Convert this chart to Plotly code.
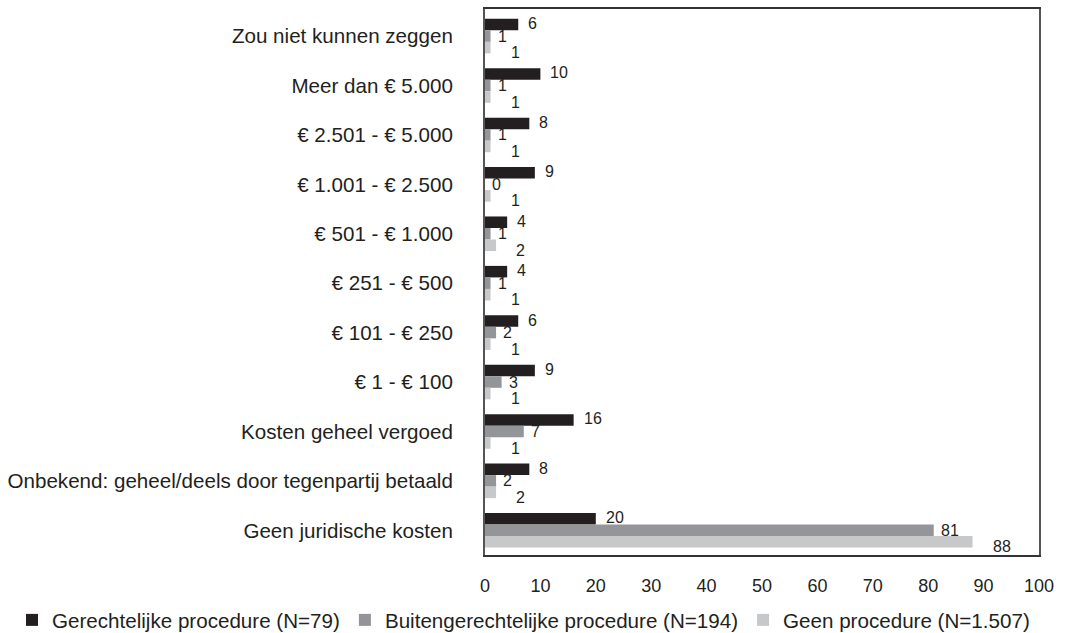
import plotly.graph_objects as go

categories = [
    "Zou niet kunnen zeggen",
    "Meer dan € 5.000",
    "€ 2.501 - € 5.000",
    "€ 1.001 - € 2.500",
    "€ 501 - € 1.000",
    "€ 251 - € 500",
    "€ 101 - € 250",
    "€ 1 - € 100",
    "Kosten geheel vergoed",
    "Onbekend: geheel/deels door tegenpartij betaald",
    "Geen juridische kosten",
]

gerechtelijk = [6, 10, 8, 9, 4, 4, 6, 9, 16, 8, 20]
buitengerechtelijk = [1, 1, 1, 0, 1, 1, 2, 3, 7, 2, 81]
geen_procedure = [1, 1, 1, 1, 2, 1, 1, 1, 1, 2, 88]

series_names = [
    "Gerechtelijke procedure (N=79)",
    "Buitengerechtelijke procedure (N=194)",
    "Geen procedure (N=1.507)",
]
series_values = [gerechtelijk, buitengerechtelijk, geen_procedure]
series_colors = ["#231f20", "#939598", "#c7c8ca"]

x_ticks = list(range(0, 101, 10))

FONT = "Liberation Sans, Arial, sans-serif"
TEXT_COLOR = "#231f20"
W, H = 1065, 633
MARGIN = dict(l=485, r=26, t=9, b=78)
BARGAP = 0.3
plot_w = W - MARGIN["l"] - MARGIN["r"]
plot_h = H - MARGIN["t"] - MARGIN["b"]

fig = go.Figure()
for name, vals, color in zip(series_names, series_values, series_colors):
    fig.add_trace(go.Bar(
        y=categories, x=vals, name=name, orientation="h",
        marker=dict(color=color, line=dict(width=0)),
        hoverinfo="x+name",
    ))

# value labels just past each bar end; per-series pixel nudges (x, y)
label_nudge = [(8, 1), (5, 0), (18, -5)]
n = len(series_values)
band_px = plot_h / len(categories)
bar_px = band_px * (1 - BARGAP) / n
annotations = []
for k, vals in enumerate(series_values):
    dx, dy = label_nudge[k]
    slot = (k - (n - 1) / 2) * bar_px  # vertical offset of this series within the group
    for cat, v in zip(categories, vals):
        annotations.append(dict(
            x=v, y=cat, text=str(v), showarrow=False,
            xanchor="left", yanchor="middle", xshift=dx, yshift=dy - slot,
            xref="x", yref="y",
            font=dict(family=FONT, size=16, color=TEXT_COLOR),
        ))

# legend row along the bottom, starting near the left page edge
legend_left_px = 12
legend_mid_px = 620

fig.update_layout(
    barmode="group",
    bargap=BARGAP,
    bargroupgap=0,
    width=W, height=H,
    margin=dict(**MARGIN, autoexpand=False),
    paper_bgcolor="white", plot_bgcolor="white",
    font=dict(family=FONT, size=20.6, color=TEXT_COLOR),
    showlegend=True,
    legend=dict(
        orientation="h", xref="paper", yref="paper",
        x=(legend_left_px - MARGIN["l"]) / plot_w, xanchor="left",
        y=-(legend_mid_px - (H - MARGIN["b"])) / plot_h, yanchor="middle",
        traceorder="normal", itemwidth=30,
        font=dict(family=FONT, size=20.6, color=TEXT_COLOR),
    ),
    xaxis=dict(
        range=[0, 100], tickvals=x_ticks, ticks="", showgrid=False,
        zeroline=False, showline=True, linecolor="#333333", linewidth=1.5,
        mirror=True, tickfont=dict(size=18), ticklabelstandoff=14,
        fixedrange=True,
    ),
    yaxis=dict(
        autorange="reversed", ticks="", showgrid=False, zeroline=False,
        showline=True, linecolor="#555555", linewidth=2, mirror=True,
        tickfont=dict(size=20.6), ticklabelstandoff=26, fixedrange=True,
    ),
    annotations=annotations,
)

fig.write_html("out.html")
